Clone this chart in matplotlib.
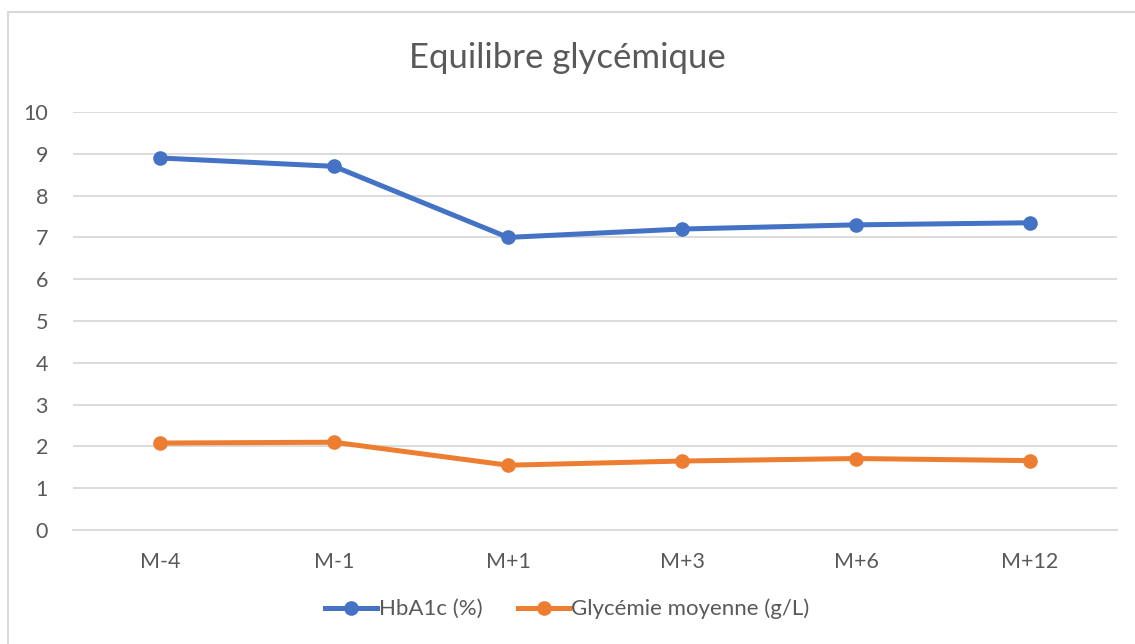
import matplotlib
matplotlib.use("Agg")
from matplotlib import pyplot as plt
from matplotlib.lines import Line2D

# données
mois = ["M-4", "M-1", "M+1", "M+3", "M+6", "M+12"]
hba1c = [8.9, 8.7, 7.0, 7.2, 7.3, 7.35]
glycemie = [2.08, 2.10, 1.55, 1.65, 1.71, 1.66]

plt.rcParams['font.family'] = ['Lato', 'DejaVu Sans']
gris = "#595959"

fig = plt.figure(figsize=(11.35, 6.44), dpi=100)
ax = fig.add_axes([73/1135, 114/644, 1044/1135, 418/644])

x = range(len(mois))
ax.plot(x, hba1c, "-o", color="#4472C4", lw=3.6, ms=9.5, label="HbA1c (%)")
ax.plot(x, glycemie, "-o", color="#ED7D31", lw=3.6, ms=9.5, label="Glycémie moyenne (g/L)")

ax.set_xlim(-0.5, len(mois) - 0.5)
ax.set_ylim(0, 10)
ax.set_yticks(range(0, 11))
ax.set_xticks(list(x))
ax.set_xticklabels(mois)
ax.grid(axis="y", color="#d9d9d9", lw=1.3)
ax.set_axisbelow(True)
for s in ["top", "right", "left"]:
    ax.spines[s].set_visible(False)
ax.spines["bottom"].set_color("#d9d9d9")
ax.spines["bottom"].set_linewidth(1.3)
ax.tick_params(length=0, labelsize=15.5, colors=gris)
ax.tick_params(axis="y", pad=18)
ax.tick_params(axis="x", pad=16)

fig.text(0.5, 1 - 58/644, "Equilibre glycémique", ha="center", va="center",
         fontsize=25, color=gris)

fig.legend(loc="center", bbox_to_anchor=(0.5, 1 - 609/644), ncol=2, frameon=False,
           fontsize=16, labelcolor=gris, handlelength=2.3, handletextpad=0.1,
           columnspacing=1.6)

# cadre
fig.add_artist(Line2D([8/1135, 8/1135], [0, 1 - 12/644], color="#d9d9d9", lw=1.5))
fig.add_artist(Line2D([8/1135, 1], [1 - 12/644, 1 - 12/644], color="#d9d9d9", lw=1.5))

fig.savefig("out.png", dpi=100)
